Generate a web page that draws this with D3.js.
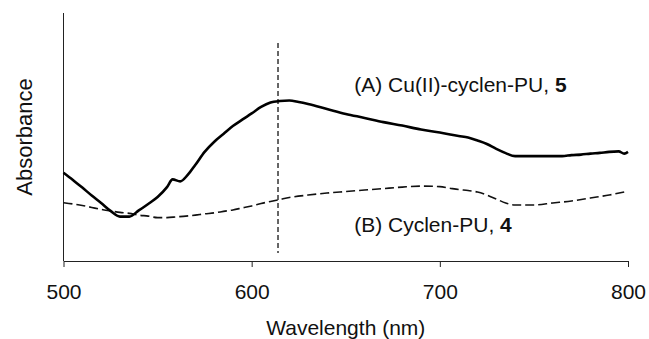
<!DOCTYPE html>
<html>
<head>
<meta charset="utf-8">
<script src="https://cdn.jsdelivr.net/npm/d3@7/dist/d3.min.js"></script>
<style>
  html, body { margin: 0; padding: 0; background: #fff; }
  svg { display: block; font-family: "Liberation Sans", Arial, sans-serif; }
</style>
</head>
<body>
<svg id="chart" width="649" height="339"></svg>
<script>
// Wavelength grid (nm) and absorbance (arbitrary units) for each spectrum
const wlA = [500,505,510,515,520,525,530,535,540,545,550,555,558,562,566,570,575,580,585,590,595,600,605,610,615,620,625,630,640,650,660,670,680,690,700,710,715,720,725,730,735,740,750,760,765,770,775,780,785,790,795,798,800];
const absA = [0.356,0.327,0.296,0.264,0.234,0.202,0.179,0.179,0.204,0.230,0.258,0.298,0.329,0.321,0.347,0.387,0.440,0.480,0.512,0.544,0.570,0.595,0.621,0.639,0.645,0.647,0.641,0.633,0.613,0.593,0.577,0.560,0.546,0.530,0.518,0.504,0.498,0.486,0.472,0.452,0.435,0.423,0.423,0.423,0.423,0.427,0.429,0.433,0.436,0.440,0.442,0.433,0.440];

const wlB = [500,505,510,515,520,525,530,535,540,545,550,555,560,565,570,575,580,585,590,595,600,605,610,615,620,630,640,650,660,670,680,690,700,705,710,715,720,725,730,735,740,750,760,770,780,790,800];
const absB = [0.235,0.230,0.224,0.216,0.208,0.202,0.196,0.192,0.185,0.181,0.175,0.175,0.178,0.181,0.185,0.190,0.194,0.200,0.206,0.214,0.222,0.232,0.240,0.248,0.256,0.266,0.274,0.280,0.286,0.292,0.298,0.302,0.300,0.294,0.288,0.284,0.278,0.266,0.250,0.234,0.226,0.226,0.234,0.242,0.254,0.266,0.282];

const xTicks = [500, 600, 700, 800];
const markerNm = 614;              // position of the absorption maximum marker
const markerSpan = [0.032, 0.879]; // vertical extent of the marker line

const labels = [
  { text: "(A) Cu(II)-cyclen-PU, ", bold: "5", nm: 654.5, abs: 0.681 },
  { text: "(B) Cyclen-PU, ", bold: "4", nm: 654.5, abs: 0.117 }
];

const svg = d3.select("#chart");
const x = d3.scaleLinear().domain([500, 800]).range([63.5, 628]);
const y = d3.scaleLinear().domain([0, 1]).range([261, 13]);

// axes
const xAxis = svg.append("g")
  .attr("transform", `translate(0,${y(0)})`)
  .call(d3.axisBottom(x).tickValues(xTicks).tickFormat(d3.format("d")).tickSize(6).tickPadding(17).tickSizeOuter(0));
xAxis.select(".domain").attr("stroke", "#222");
xAxis.selectAll(".tick line").attr("stroke", "#222");
xAxis.selectAll("text").attr("font-size", 21).attr("fill", "#111").attr("font-family", "Liberation Sans, Arial, sans-serif");

svg.append("line")
  .attr("x1", x(500)).attr("x2", x(500))
  .attr("y1", y(1)).attr("y2", y(0))
  .attr("stroke", "#222").attr("stroke-width", 1);

// axis titles
svg.append("text")
  .attr("x", (x(500) + x(800)) / 2).attr("y", 335)
  .attr("text-anchor", "middle").attr("font-size", 21).attr("fill", "#111")
  .text("Wavelength (nm)");

svg.append("text")
  .attr("transform", `translate(32,${(y(0) + y(1)) / 2}) rotate(-90)`)
  .attr("text-anchor", "middle").attr("font-size", 22).attr("fill", "#111")
  .text("Absorbance");

// marker line at the band maximum
svg.append("line")
  .attr("x1", x(markerNm)).attr("x2", x(markerNm))
  .attr("y1", y(markerSpan[1])).attr("y2", y(markerSpan[0]))
  .attr("stroke", "#555").attr("stroke-width", 1.8)
  .attr("stroke-dasharray", "5,3");

const line = d3.line().x(d => x(d[0])).y(d => y(d[1])).curve(d3.curveMonotoneX);

svg.append("path")
  .datum(d3.zip(wlB, absB))
  .attr("d", line)
  .attr("fill", "none").attr("stroke", "#111").attr("stroke-width", 1.6)
  .attr("stroke-dasharray", "9,4");

svg.append("path")
  .datum(d3.zip(wlA, absA))
  .attr("d", line)
  .attr("fill", "none").attr("stroke", "#000").attr("stroke-width", 2.6)
  .attr("stroke-linejoin", "round");

// curve labels
labels.forEach(l => {
  const t = svg.append("text")
    .attr("x", x(l.nm)).attr("y", y(l.abs))
    .attr("font-size", 21).attr("fill", "#111");
  t.append("tspan").text(l.text);
  t.append("tspan").attr("font-weight", "bold").text(l.bold);
});
</script>
</body>
</html>
